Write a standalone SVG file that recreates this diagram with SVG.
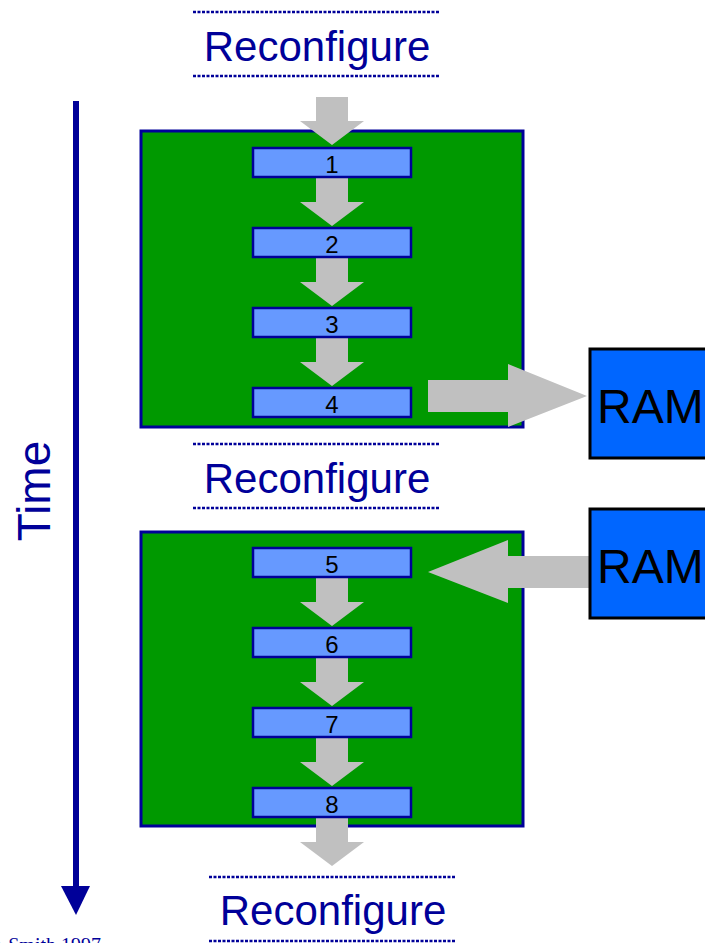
<svg xmlns="http://www.w3.org/2000/svg" width="705" height="943" viewBox="0 0 705 943">
<style>
.dot{stroke:#000099;stroke-width:2.5;stroke-dasharray:3 1.5;fill:none}
.rc{font-family:"Liberation Sans",Arial,sans-serif;font-size:42px;fill:#000099;text-anchor:middle}
.green{fill:#009900;stroke:#000099;stroke-width:3}
.step{fill:#6699FF;stroke:#000099;stroke-width:2.5}
.num{font-family:"Liberation Sans",Arial,sans-serif;font-size:24px;fill:#000000;text-anchor:middle}
.ram{fill:#0066FF;stroke:#000000;stroke-width:3}
.ramt{font-family:"Liberation Sans",Arial,sans-serif;font-size:48px;fill:#000000}
.ga{fill:#C0C0C0}
</style>
<rect width="705" height="943" fill="#ffffff"/>
<g id="reconfigure-top">
<line class="dot" x1="193" y1="12" x2="440" y2="12"/>
<text class="rc" x="317" y="61">Reconfigure</text>
<line class="dot" x1="193" y1="76" x2="440" y2="76"/>
</g>
<g id="reconfigure-mid">
<line class="dot" x1="193" y1="444" x2="440" y2="444"/>
<text class="rc" x="317" y="493">Reconfigure</text>
<line class="dot" x1="193" y1="508" x2="440" y2="508"/>
</g>
<g id="reconfigure-bottom">
<line class="dot" x1="209" y1="877" x2="455" y2="877"/>
<text class="rc" x="333" y="925">Reconfigure</text>
<line class="dot" x1="209" y1="941" x2="455" y2="941"/>
</g>
<g id="time">
<rect x="73" y="101" width="6" height="786" fill="#000099"/>
<polygon points="61,886 90,886 76,915" fill="#000099"/>
<text x="50" y="491" transform="rotate(-90 50 491)" font-family="Liberation Sans, Arial, sans-serif" font-size="46" fill="#000099" text-anchor="middle">Time</text>
</g>
<g id="fpga1">
<rect class="green" x="141" y="131" width="382" height="296"/>
</g>
<g id="fpga2">
<rect class="green" x="141" y="532" width="382" height="294"/>
</g>
<g id="connectors">
<polygon class="ga" points="316,97 348,97 348,121 364,121 332,145 300,121 316,121"/>
<polygon class="ga" points="316,178 348,178 348,202 364,202 332,226 300,202 316,202"/>
<polygon class="ga" points="316,258 348,258 348,282 364,282 332,306 300,282 316,282"/>
<polygon class="ga" points="316,338 348,338 348,362 364,362 332,386 300,362 316,362"/>
<polygon class="ga" points="316,578 348,578 348,602 364,602 332,626 300,602 316,602"/>
<polygon class="ga" points="316,658 348,658 348,682 364,682 332,706 300,682 316,682"/>
<polygon class="ga" points="316,738 348,738 348,762 364,762 332,786 300,762 316,762"/>
<polygon class="ga" points="316,818 348,818 348,842 364,842 332,866 300,842 316,842"/>
<polygon class="ga" points="428,380 508,380 508,364 587,396 508,427 508,412 428,412"/>
<polygon class="ga" points="590,556 508,556 508,540 428,572 508,603 508,588 590,588"/>
</g>
<g id="step1"><rect class="step" x="253" y="148" width="158" height="29"/><text class="num" x="332" y="173">1</text></g>
<g id="step2"><rect class="step" x="253" y="228" width="158" height="29"/><text class="num" x="332" y="253">2</text></g>
<g id="step3"><rect class="step" x="253" y="308" width="158" height="29"/><text class="num" x="332" y="333">3</text></g>
<g id="step4"><rect class="step" x="253" y="388" width="158" height="29"/><text class="num" x="332" y="413">4</text></g>
<g id="step5"><rect class="step" x="253" y="548" width="158" height="29"/><text class="num" x="332" y="573">5</text></g>
<g id="step6"><rect class="step" x="253" y="628" width="158" height="29"/><text class="num" x="332" y="653">6</text></g>
<g id="step7"><rect class="step" x="253" y="708" width="158" height="29"/><text class="num" x="332" y="733">7</text></g>
<g id="step8"><rect class="step" x="253" y="788" width="158" height="29"/><text class="num" x="332" y="813">8</text></g>
<g id="ram1"><rect class="ram" x="590" y="349" width="130" height="109"/><text class="ramt" x="597" y="423">RAM</text></g>
<g id="ram2"><rect class="ram" x="590" y="509" width="130" height="109"/><text class="ramt" x="597" y="583">RAM</text></g>
<g id="credit">
<text x="101" y="952" font-family="Liberation Serif, Times New Roman, serif" font-size="20" fill="#000099" text-anchor="end">Mangione-Smith 1997</text>
</g>
</svg>
